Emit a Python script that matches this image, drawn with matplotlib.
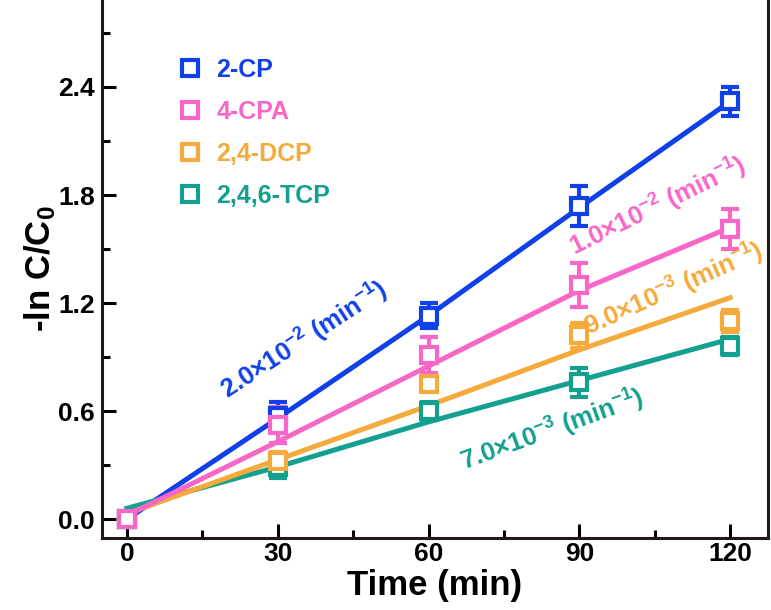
import numpy as np
import matplotlib.pyplot as plt
from matplotlib.lines import Line2D

plt.rcParams['font.family'] = ['Liberation Sans', 'DejaVu Sans']
plt.rcParams['font.weight'] = 'bold'
plt.rcParams['axes.labelweight'] = 'bold'
plt.rcParams['mathtext.fontset'] = 'custom'
plt.rcParams['mathtext.rm'] = 'Liberation Sans:bold'
plt.rcParams['mathtext.it'] = 'Liberation Sans:bold'
plt.rcParams['mathtext.bf'] = 'Liberation Sans:bold'

t = [0, 30, 60, 90, 120]
names = ['2-CP', '4-CPA', '2,4-DCP', '2,4,6-TCP']
colors = ['#1040E8', '#F866C8', '#F5AA3C', '#13A08E']

cp2 = [0.0, 0.57, 1.13, 1.74, 2.32]
cp2_err = [0.0, 0.08, 0.07, 0.11, 0.08]
cpa4 = [0.0, 0.52, 0.91, 1.30, 1.61]
cpa4_err = [0.0, 0.10, 0.10, 0.12, 0.11]
dcp = [0.0, 0.32, 0.75, 1.02, 1.10]
dcp_err = [0.0, 0.05, 0.04, 0.07, 0.06]
tcp = [0.0, 0.29, 0.60, 0.76, 0.96]
tcp_err = [0.0, 0.06, 0.05, 0.08, 0.05]

# fitted lines
cp2_fit = [0.0, 0.56, 1.13, 1.73, 2.32]
cpa4_fit = [0.02, 0.43, 0.85, 1.27, 1.62]
dcp_fit = [0.03, 0.33, 0.63, 0.94, 1.23]
tcp_fit = [0.06, 0.29, 0.54, 0.77, 1.00]

rates = ['2.0×10$^{-2}$ (min$^{-1}$)', '1.0×10$^{-2}$ (min$^{-1}$)',
         '9.0×10$^{-3}$ (min$^{-1}$)', '7.0×10$^{-3}$ (min$^{-1}$)']

ys = [cp2, cpa4, dcp, tcp]
errs = [cp2_err, cpa4_err, dcp_err, tcp_err]
fits = [cp2_fit, cpa4_fit, dcp_fit, tcp_fit]

fig = plt.figure(figsize=(7.71, 6.10), dpi=100)
ax = fig.add_axes([0.132, 0.118, 0.864, 0.882])

for i in [0, 3, 2, 1]:
    ax.plot(t, fits[i], color=colors[i], lw=3.6, zorder=2)
    ax.errorbar(t, ys[i], yerr=errs[i], fmt='s', color=colors[i], mfc='white',
                mec=colors[i], ms=11, mew=3, elinewidth=3, capsize=6.5,
                capthick=3.2, zorder=3)

# rate labels
ax.text(21, 0.63, rates[0], color=colors[0], fontsize=18.5, rotation=33,
        rotation_mode='anchor', ha='left', va='bottom')
ax.text(89.8, 1.42, rates[1], color=colors[1], fontsize=18.5, rotation=26,
        rotation_mode='anchor', ha='left', va='bottom')
ax.text(92.6, 0.98, rates[2], color=colors[2], fontsize=18.5, rotation=24,
        rotation_mode='anchor', ha='left', va='bottom')
ax.text(67.6, 0.23, rates[3], color=colors[3], fontsize=18.5, rotation=20,
        rotation_mode='anchor', ha='left', va='bottom')

handles = [Line2D([], [], ls='none', marker='s', ms=11, mfc='white',
                  mec=c, mew=3) for c in colors]
leg = ax.legend(handles, names, loc='upper left', bbox_to_anchor=(0.08, 0.934),
                frameon=False, fontsize=18, labelspacing=0.72,
                handlelength=1.0, handletextpad=0.55, labelcolor=colors)

ax.set_xlim(-5, 127.5)
ax.set_ylim(-0.105, 2.883)
ax.set_xticks(t)
ax.set_xticks([15, 45, 75, 105], minor=True)
ax.set_yticks([0.0, 0.6, 1.2, 1.8, 2.4])
ax.set_yticks([0.3, 0.9, 1.5, 2.1, 2.7], minor=True)
ax.set_yticklabels(['0.0', '0.6', '1.2', '1.8', '2.4'])
ax.tick_params(which='both', direction='in', width=2.2, labelsize=19)
ax.tick_params(axis='x', pad=3)
ax.tick_params(axis='y', pad=5)
ax.tick_params(which='major', length=10)
ax.tick_params(which='minor', length=6)
ax.spines['top'].set_visible(False)
for s in ['left', 'bottom', 'right']:
    ax.spines[s].set_linewidth(2.2)
    ax.spines[s].set_color('#231815')

ax.set_xlabel('Time (min)', fontsize=25, labelpad=2)
ax.set_ylabel('-ln C/C$_0$', fontsize=25, labelpad=0)

fig.savefig('out.png', dpi=100)
